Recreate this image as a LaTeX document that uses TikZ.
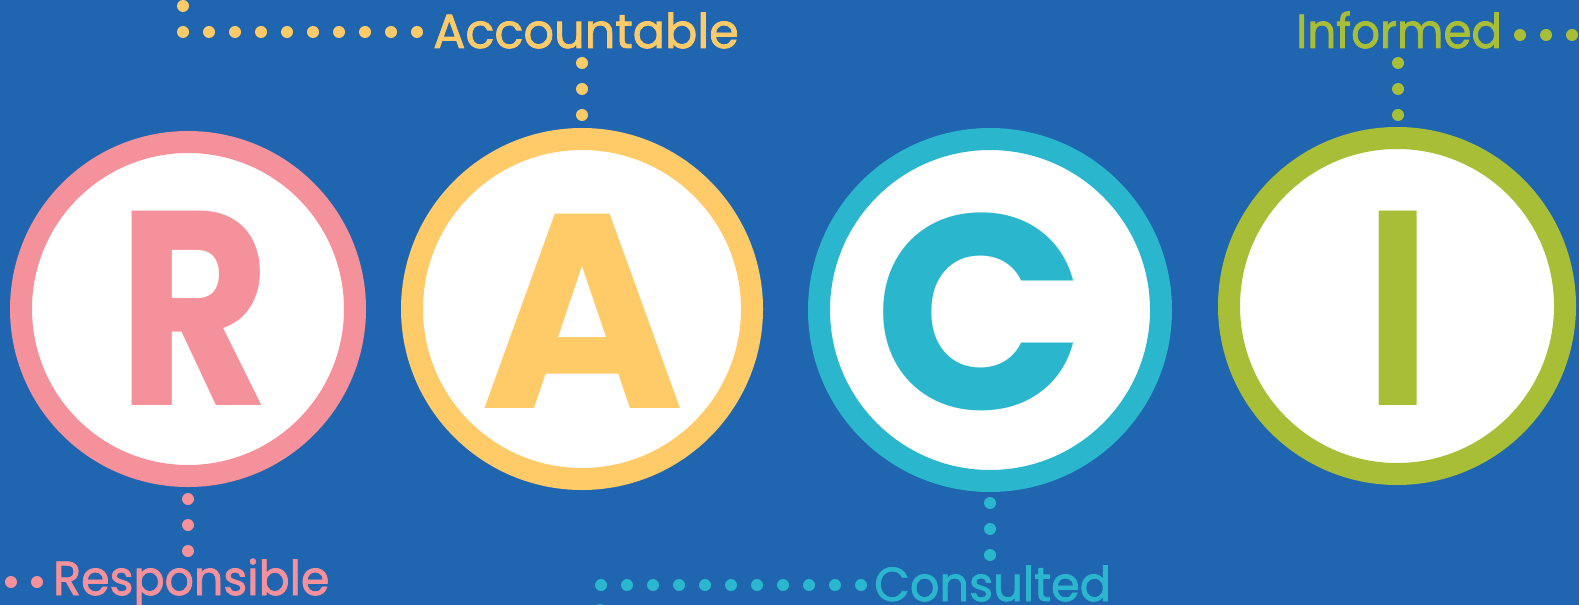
\documentclass[tikz,border=0pt]{standalone}
\usepackage{fontspec}
\setmainfont{Poppins}
\newfontfamily\lblfont{Poppins}[FakeBold=1.6]
\definecolor{bg}{RGB}{31,101,176}
\definecolor{pk}{RGB}{245,145,155}
\definecolor{yl}{RGB}{254,203,104}
\definecolor{cy}{RGB}{42,182,205}
\definecolor{gr}{RGB}{168,190,55}
\begin{document}
\begin{tikzpicture}[x=1bp,y=-1bp,
  ring/.style={circle, line width=22bp, fill=white, minimum size=#1, inner sep=0pt},
  letter/.style={font=\fontsize{278}{278}\selectfont\bfseries, inner sep=0pt, anchor=base},
  lbl/.style={font=\fontsize{48}{48}\selectfont\lblfont, inner sep=0pt, anchor=base west},
  dots/.style={line width=12bp, line cap=round, dash pattern=on 0bp off 26bp}]
\fill[bg] (0,0) rectangle (1579,605);
\useasboundingbox (0,0) rectangle (1579,605);
% rings
\node[ring=334bp, draw=pk] (R) at (188,309) {};
\node[ring=340bp, draw=yl] (A) at (582,309) {};
\node[ring=342bp, draw=cy] (C) at (990,310) {};
\node[ring=336bp, draw=gr] (I) at (1397,306) {};
% letters
\node[letter, text=pk] (Rl) at (194,405) {\scalebox{0.85}[1]{R}};
\node[letter, text=yl] (Al) at (583,408) {A};
\node[letter, text=cy] (Cl) at (980,409) {C};
\node[letter, text=gr] (Il) at (1398,405) {\scalebox{0.8}[1]{I}};
% labels
\node[lbl, text=yl] (acc) at (433,48) {Accountable};
\node[lbl, text=gr] (inf) at (1296,48) {\scalebox{0.945}[1]{Informed}};
\node[lbl, text=pk] (resp) at (53,595) {\scalebox{0.96}[1]{Responsible}};
\node[lbl, text=cy] (cons) at (874,601) {\scalebox{0.967}[1]{Consulted}};
% connector points
\coordinate (y0) at (183,-20);
\coordinate (y1) at (183,32);
\coordinate (y2) at (418,32);
\coordinate (a0) at (582,63);
\coordinate (r0) at (188,499);
\coordinate (r1) at (188,553);
\coordinate (r2) at (37,582);
\coordinate (r3) at (-30,582);
\coordinate (c0) at (990,503);
\coordinate (c1) at (990,558);
\coordinate (c2) at (861,585);
\coordinate (c3) at (600,585);
\coordinate (c4) at (600,640);
\coordinate (g0) at (1398,63);
\coordinate (g1) at (1398,118);
\coordinate (g2) at (1520,35);
\coordinate (g3) at (1620,35);
% dotted connectors
\draw[dots, yl] (y0) -- (y1) -- (y2);
\draw[dots, yl] (a0) -- (A.north);
\draw[dots, pk] (r0) -- (r1);
\draw[dots, pk] (r2) -- (r3);
\draw[dots, cy] (c0) -- (c1);
\draw[dots, cy] (c2) -- (c3) -- (c4);
\draw[dots, gr] (g0) -- (g1);
\draw[dots, gr] (g2) -- (g3);
\end{tikzpicture}
\end{document}
